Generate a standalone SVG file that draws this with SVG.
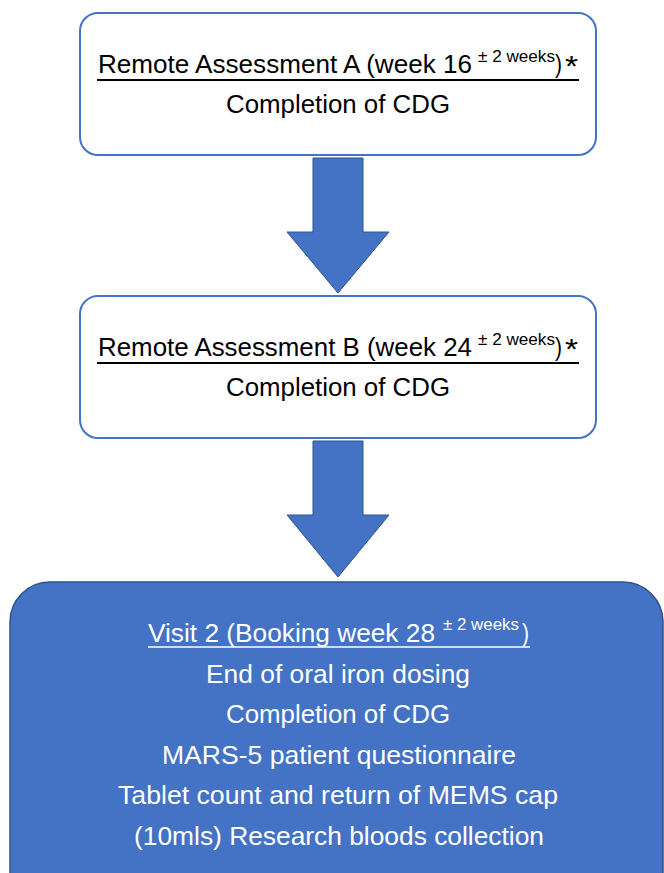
<svg xmlns="http://www.w3.org/2000/svg" width="664" height="873" viewBox="0 0 664 873">
<style>
.t{font-family:"Liberation Sans",Arial,sans-serif;font-size:26px}
.s{font-family:"Liberation Sans",Arial,sans-serif;font-size:16px}
.dk{fill:#000}
.wt{fill:#fff}
.box{fill:#fff;stroke:#4472C4;stroke-width:2}
.boxc{fill:#4472C4;stroke:#2F528F;stroke-width:1.5}
.arrow{fill:#4472C4;stroke:#2F528F;stroke-width:1}
</style>
<rect width="664" height="873" fill="#fff"/>
<g id="connectors">
<path class="arrow" d="M313,158 L363,158 L363,232 L389,232 L338,293 L287,232 L313,232 Z"/>
<path class="arrow" d="M313,441 L363,441 L363,515 L389,515 L338,577 L287,515 L313,515 Z"/>
</g>
<g id="nodeA">
<rect class="box" x="80" y="13" width="516" height="142" rx="18"/>
<text class="t dk" x="98" y="73" textLength="374" lengthAdjust="spacingAndGlyphs">Remote Assessment A (week 16</text>
<text class="s dk" x="478" y="62" textLength="77" lengthAdjust="spacingAndGlyphs">± 2 weeks</text>
<text class="t dk" x="555" y="73" textLength="7" lengthAdjust="spacingAndGlyphs">)</text>
<text class="t dk" x="565" y="76" textLength="13" lengthAdjust="spacingAndGlyphs" style="font-size:30px">*</text>
<line x1="97" y1="80" x2="579" y2="80" stroke="#000" stroke-width="2"/>
<text class="t dk" x="338" y="113" text-anchor="middle" textLength="224" lengthAdjust="spacingAndGlyphs">Completion of CDG</text>
</g>
<g id="nodeB">
<rect class="box" x="80" y="296" width="516" height="142" rx="18"/>
<text class="t dk" x="98" y="356" textLength="374" lengthAdjust="spacingAndGlyphs">Remote Assessment B (week 24</text>
<text class="s dk" x="478" y="345" textLength="77" lengthAdjust="spacingAndGlyphs">± 2 weeks</text>
<text class="t dk" x="555" y="356" textLength="7" lengthAdjust="spacingAndGlyphs">)</text>
<text class="t dk" x="565" y="359" textLength="13" lengthAdjust="spacingAndGlyphs" style="font-size:30px">*</text>
<line x1="97" y1="363" x2="579" y2="363" stroke="#000" stroke-width="2"/>
<text class="t dk" x="338" y="396" text-anchor="middle" textLength="224" lengthAdjust="spacingAndGlyphs">Completion of CDG</text>
</g>
<g id="nodeC">
<rect class="boxc" x="10" y="582" width="653" height="330" rx="40"/>
<text class="t wt" x="148" y="642" textLength="287" lengthAdjust="spacingAndGlyphs">Visit 2 (Booking week 28</text>
<text class="s wt" x="443" y="630" textLength="76" lengthAdjust="spacingAndGlyphs">± 2 weeks</text>
<text class="t wt" x="522" y="642" textLength="7" lengthAdjust="spacingAndGlyphs">)</text>
<line x1="148" y1="647" x2="530" y2="647" stroke="#fff" stroke-width="1.5"/>
<text class="t wt" x="338" y="683" text-anchor="middle" textLength="264" lengthAdjust="spacingAndGlyphs">End of oral iron dosing</text>
<text class="t wt" x="338" y="723" text-anchor="middle" textLength="224" lengthAdjust="spacingAndGlyphs">Completion of CDG</text>
<text class="t wt" x="339" y="764" text-anchor="middle" textLength="354" lengthAdjust="spacingAndGlyphs">MARS-5 patient questionnaire</text>
<text class="t wt" x="338" y="804" text-anchor="middle" textLength="440" lengthAdjust="spacingAndGlyphs">Tablet count and return of MEMS cap</text>
<text class="t wt" x="339" y="845" text-anchor="middle" textLength="410" lengthAdjust="spacingAndGlyphs">(10mls) Research bloods collection</text>
</g>
</svg>
